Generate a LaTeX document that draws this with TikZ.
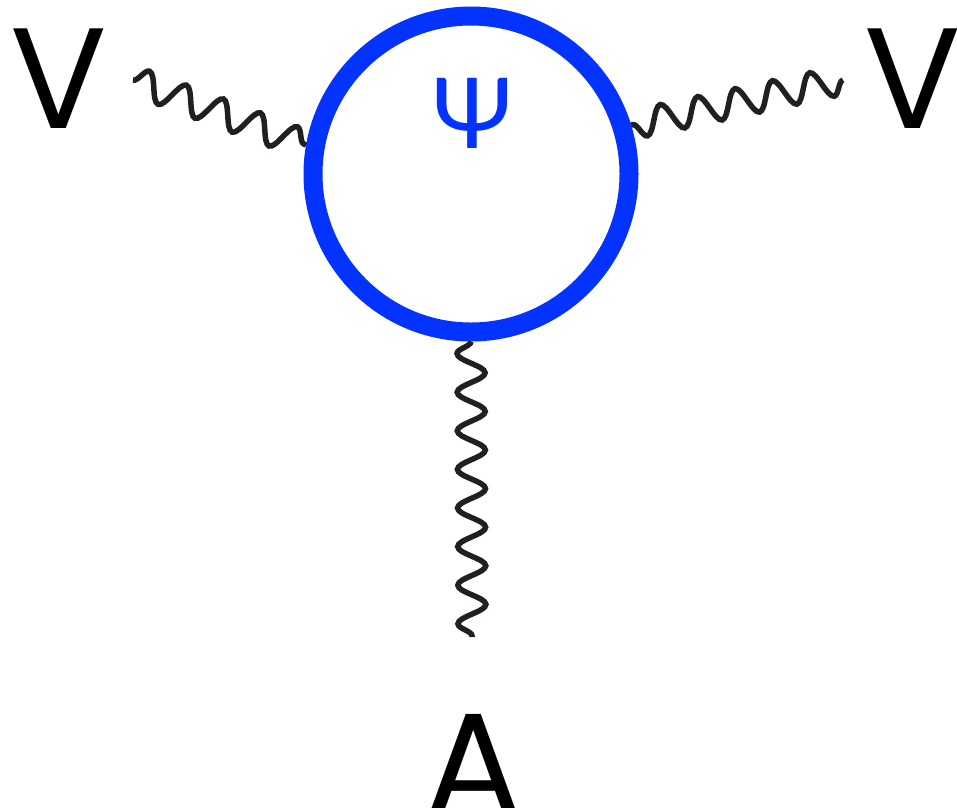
\documentclass[tikz,border=0pt]{standalone}
\usepackage{fontspec}
\setmainfont{Poppins}
\newfontfamily\greekfont{Lato}
\usetikzlibrary{decorations.pathmorphing}
\definecolor{loopblue}{RGB}{4,51,255}
\definecolor{wiggle}{RGB}{34,31,31}

\begin{document}
\begin{tikzpicture}[x=1pt, y=-1pt,
    boson/.style={draw=wiggle, line width=5.5pt, decorate,
      decoration={snake, amplitude=14pt, segment length=39.5pt}},
    fermion loop/.style={circle, draw=loopblue, line width=19pt, minimum size=316pt, inner sep=0pt},
    leg label/.style={inner sep=0pt, anchor=base, font=\fontsize{143}{143}\selectfont} ]
    \useasboundingbox (0,0) rectangle (957,807);
    \node [fermion loop] (loop) at (471,174) {};
    \node [inner sep=0pt, anchor=base, text=loopblue, font=\greekfont\fontsize{98}{98}\selectfont] (psi) at (472,148) {Ψ};
    \node [leg label] (V1) at (58.5,128) {V};
    \node [leg label] (V2) at (912.5,128) {V};
    \node [leg label] (A) at (474,813) {A};
    \coordinate (w1) at (133,80);
    \coordinate (w2) at (843,80);
    \coordinate (w3) at (472,637);
    \draw [boson] (w1) -- (loop.170);
    \draw [boson, decoration={segment length=38.2pt}] (w2) -- (loop.17);
    \draw [boson, decoration={amplitude=-14pt, segment length=38.6pt}] (loop.south) -- (w3);
    \end{tikzpicture}
\end{document}
